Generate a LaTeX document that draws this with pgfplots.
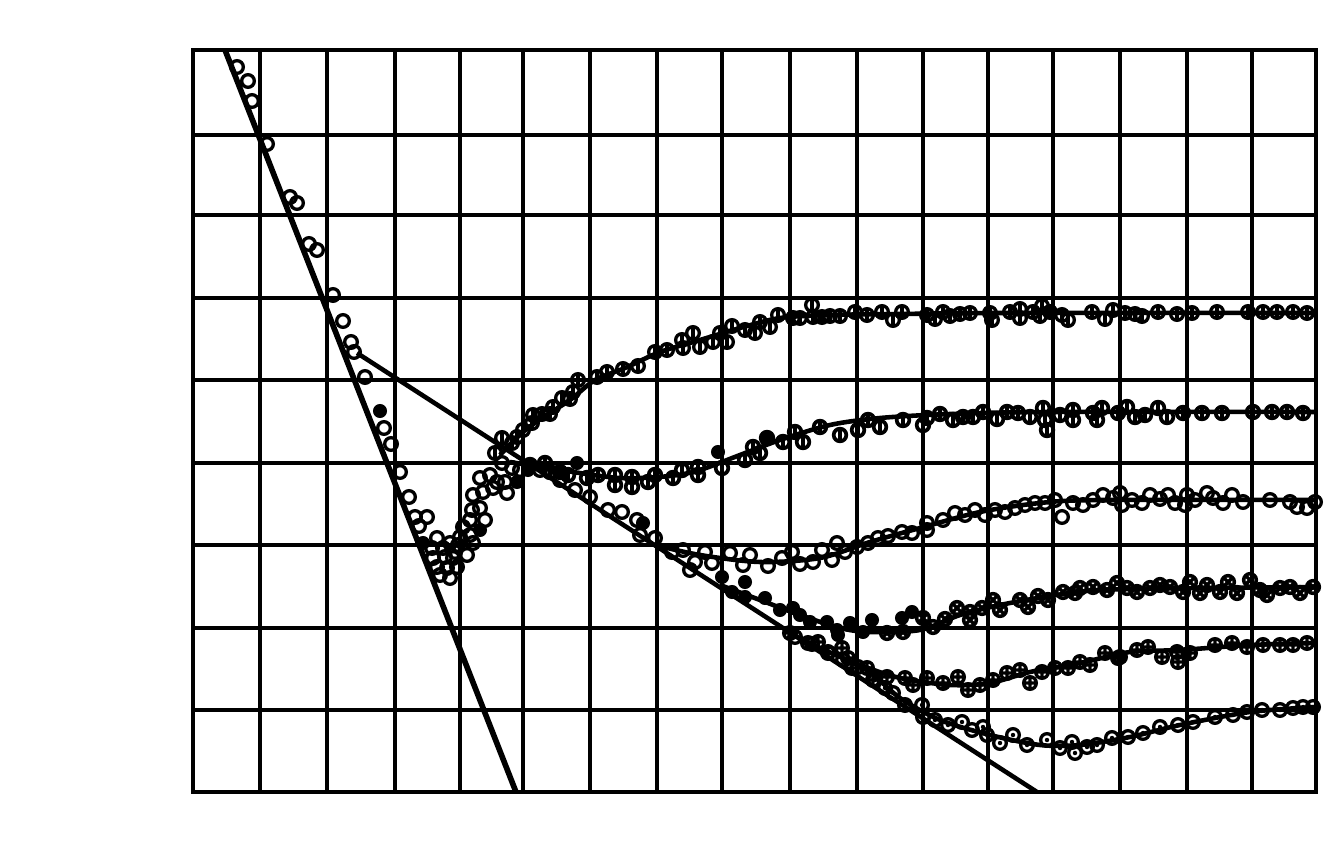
\documentclass[border=0pt]{standalone}
\usepackage{pgfplots}
\pgfplotsset{compat=1.18}
\usetikzlibrary{plotmarks}
\pgfdeclareplotmark{obar}{%
  \pgfpathcircle{\pgfpointorigin}{\pgfplotmarksize}\pgfusepathqstroke
  \pgfpathmoveto{\pgfqpoint{0pt}{\pgfplotmarksize}}%
  \pgfpathlineto{\pgfqpoint{0pt}{-\pgfplotmarksize}}\pgfusepathqstroke}
\pgfdeclareplotmark{odot}{%
  \pgfpathcircle{\pgfpointorigin}{\pgfplotmarksize}\pgfusepathqstroke
  \pgfpathcircle{\pgfpointorigin}{0.35\pgfplotmarksize}\pgfusepathqfill}
\begin{document}
\begin{tikzpicture}
\path[use as bounding box] (0,0) rectangle (13.39cm,8.66cm);
\begin{axis}[at={(1.93cm,0.74cm)}, anchor=south west, scale only axis,
  width=11.23cm, height=7.42cm,
  xmin=193, xmax=1316, ymin=50, ymax=792, y dir=reverse,
  xtick={260,327,395,460,523,590,657,722,790,857,923,988,1053,1120,1187,1252},
  ytick={135,215,298,380,463,545,628,710},
  xticklabels={}, yticklabels={}, major tick length=0pt,
  grid=major, major grid style={black, line width=0.95pt},
  axis line style={black, line width=1.2pt},
  clip mode=individual,
  every axis plot/.append style={black},
  mark size=1.8pt]
% straight lines
\addplot[line width=1.6pt, no marks] coordinates {(225,50) (516,792)};
\addplot[line width=1.3pt, no marks] coordinates {(357,353) (1037,792)};
% curve A
\addplot[line width=1.3pt, smooth, no marks] coordinates {(500,455) (523,432) (545,416) (570,400) (595,380) (625,368) (660,352) (700,340) (740,328) (780,318) (830,315) (900,314) (1000,313) (1316,313)};
% curve B
\addplot[line width=1.3pt, smooth, no marks] coordinates {(510,462) (560,470) (620,478) (670,476) (700,470) (740,455) (780,440) (830,425) (880,418) (950,414) (1050,412) (1316,412)};
% curve C
\addplot[line width=1.3pt, smooth, no marks] coordinates {(655,545) (700,555) (760,562) (820,558) (870,542) (920,528) (980,512) (1040,503) (1100,500) (1316,500)};
% curve D
\addplot[line width=1.3pt, smooth, no marks] coordinates {(720,585) (760,600) (800,615) (840,628) (870,632) (920,630) (960,615) (1000,605) (1050,596) (1100,590) (1200,588) (1316,587)};
% curve E
\addplot[line width=1.3pt, smooth, no marks] coordinates {(790,633) (820,648) (860,665) (900,678) (950,685) (990,683) (1030,672) (1080,663) (1130,652) (1180,650) (1250,645) (1316,643)};
% curve F
\addplot[line width=1.3pt, smooth, no marks] coordinates {(845,660) (870,672) (900,698) (940,720) (990,735) (1040,745) (1080,745) (1130,737) (1180,725) (1250,712) (1316,707)};
% open circles, upper left and dip
\addplot[only marks, mark=o, mark options={line width=0.95pt}] coordinates {
(237,67) (248,81) (252,101) (267,144) (290,197) (297,203) (309,244) (317,250)
(333,295) (343,321) (351,342) (354,352) (365,377) (384,428) (391,444) (400,472) (409,497)
(415,517) (427,517) (419,526) (437,538) (432,548) (443,548) (455,552) (467,555)
(433,558) (445,557) (453,558) (437,567) (447,568) (457,567) (440,575) (450,578)
(450,543) (458,545) (473,543) (460,537) (470,535) (463,527) (470,520) (485,520)
(472,510) (480,508) (473,495) (483,492) (493,488) (507,493) (480,478) (490,475)
(497,482) (505,482) (502,463) (512,468) (520,470)
(540,470) (560,480) (575,490) (590,497) (608,510) (622,512) (637,520) (640,535) (655,538)};
\addplot[only marks, mark=*] coordinates {(380,411) (423,543) (480,530) (517,482) (528,470) (643,523)};
% series A marks
\addplot[only marks, mark=obar, mark options={line width=0.95pt}] coordinates {
(495,453) (502,438) (512,443) (517,437) (523,430) (532,423) (533,415) (542,414) (550,414)
(553,407) (562,398) (570,399) (573,392) (578,380) (597,377) (607,372) (623,369) (638,366)
(655,352) (667,350) (682,340) (683,348) (693,333) (700,347) (713,342) (720,333) (727,342)
(732,326) (745,330) (755,333) (760,322) (770,327) (778,315) (793,318) (800,318) (812,305)
(813,317) (822,317) (830,316) (840,316) (855,312) (867,315) (882,312) (893,320) (902,312)
(927,315) (935,319) (943,312) (950,316) (960,314) (970,313) (990,313) (992,320) (1010,312)
(1020,309) (1020,318) (1033,312) (1042,306) (1040,316) (1050,312) (1062,315) (1068,320)
(1092,312) (1105,319) (1113,310) (1125,313) (1135,314) (1142,316) (1158,312) (1177,314)
(1192,313) (1217,312) (1248,312) (1263,312) (1277,312) (1293,312) (1307,313) (1318,313)};
% series B marks
\addplot[only marks, mark=obar, mark options={line width=1.05pt}] coordinates {
(530,465) (545,463) (550,472) (560,472) (568,475) (587,478) (598,475) (615,475) (615,485)
(632,477) (632,487) (648,482) (655,475) (673,478) (682,470) (698,467) (698,475) (722,468)
(745,460) (753,447) (760,453) (767,438) (783,442) (795,432) (803,442) (820,427) (840,435)
(858,430) (868,420) (880,427) (903,420) (923,425) (927,418) (940,414) (953,420) (963,417)
(973,417) (983,412) (997,419) (1007,412) (1018,413) (1030,417) (1043,408) (1045,420)
(1047,430) (1060,415) (1073,410) (1073,420) (1093,413) (1097,420) (1102,408) (1118,413)
(1127,407) (1135,417) (1145,415) (1158,408) (1167,417) (1183,413) (1202,413) (1222,413)
(1253,412) (1272,412) (1287,412) (1303,413) (1318,412)};
\addplot[only marks, mark=*] coordinates {(577,463) (718,452) (767,438)};
% series C marks
\addplot[only marks, mark=o, mark options={line width=0.95pt}] coordinates {
(672,552) (683,550) (690,570) (695,562) (705,552) (712,563) (730,553) (743,565) (750,555)
(768,566) (782,558) (792,552) (800,564) (813,562) (822,550) (832,560) (837,543) (845,552)
(857,547) (868,543) (878,538) (888,536) (902,532) (912,533) (927,530) (927,523) (943,520)
(955,513) (965,515) (975,510) (985,515) (995,510) (1005,512) (1015,508) (1025,505) (1035,503)
(1045,503) (1055,500) (1062,517) (1073,503) (1083,505) (1093,500) (1103,495) (1113,498)
(1120,493) (1122,505) (1132,500) (1142,503) (1150,495) (1160,499) (1168,495) (1175,503)
(1187,495) (1185,505) (1195,500) (1207,493) (1213,498) (1223,503) (1232,495) (1243,502)
(1270,500) (1290,502) (1297,507) (1307,508) (1315,502)};
% series D marks
\addplot[only marks, mark=*] coordinates {
(722,577) (745,582) (732,592) (745,597) (765,598) (780,610) (793,608) (800,615) (810,622)
(827,622) (837,630) (850,623) (872,620) (863,632) (838,635) (902,618) (912,612)};
\addplot[only marks, mark=otimes, mark options={line width=1pt}] coordinates {
(887,633) (903,632) (923,618) (933,627) (945,619) (957,608) (970,620) (970,612) (982,608)
(993,600) (1000,610) (1020,600) (1028,607) (1038,596) (1048,600) (1063,592) (1075,593)
(1080,588) (1093,587) (1107,590) (1117,583) (1127,588) (1137,592) (1150,588) (1160,585)
(1170,587) (1183,592) (1190,582) (1200,593) (1207,585) (1220,592) (1228,582) (1237,593)
(1250,580) (1260,590) (1267,595) (1280,588) (1290,587) (1300,593) (1313,587)};
% series E marks
\addplot[only marks, mark=oplus, mark options={line width=0.95pt}] coordinates {
(790,633) (808,643) (818,642) (828,653) (842,648) (848,658) (852,668) (867,668) (873,680)
(887,677) (905,678) (913,685) (927,678) (943,683) (958,677) (968,690) (980,685) (993,680)
(1007,673) (1020,670) (1030,683) (1042,672) (1055,668) (1068,668) (1080,662) (1090,665)
(1105,653) (1118,658) (1120,657) (1137,650) (1148,647) (1162,657) (1177,652) (1178,662)
(1190,653) (1215,645) (1232,643) (1247,647) (1263,645) (1280,645) (1293,645) (1307,643)
(1317,643)};
% series F marks
\addplot[only marks, mark=odot, mark options={line width=0.95pt}] coordinates {
(795,637) (812,644) (828,652) (843,660) (858,667) (875,680) (885,688) (893,693) (905,705)
(922,705) (923,717) (935,720) (948,725) (962,722) (972,730) (983,727) (987,735) (1000,743)
(1013,735) (1027,745) (1047,740) (1060,748) (1072,742) (1075,753) (1087,747) (1097,745)
(1112,738) (1128,737) (1143,733) (1160,727) (1178,725) (1193,722) (1215,717) (1233,715)
(1247,712) (1262,710) (1280,710) (1293,708) (1303,707) (1313,707)};
\end{axis}
\end{tikzpicture}
\end{document}
